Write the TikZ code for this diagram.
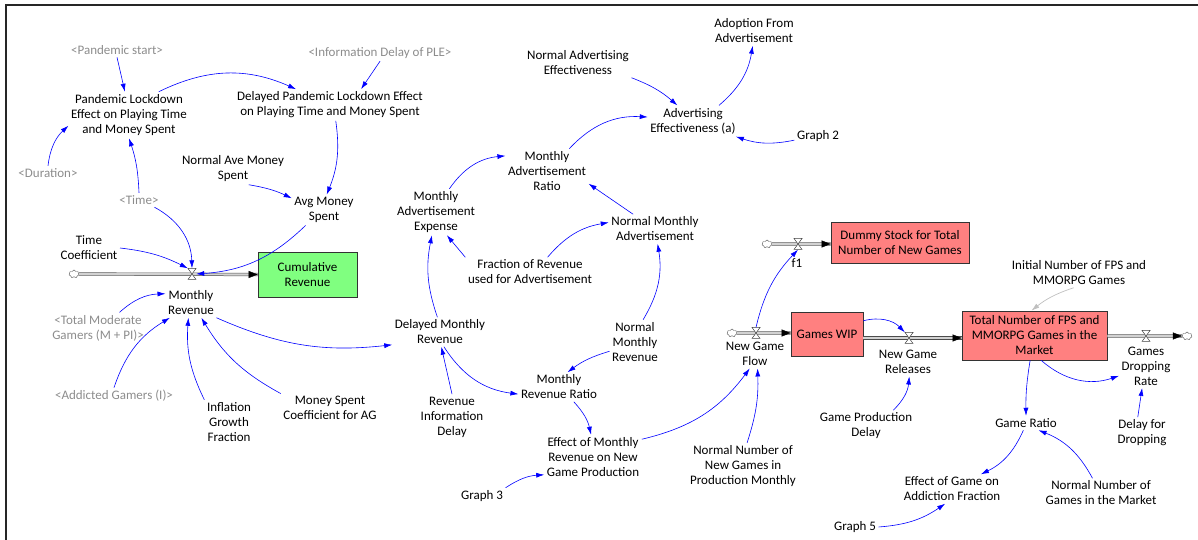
\documentclass[tikz,border=0pt]{standalone}
\usepackage{fontspec}
\setmainfont{Carlito}
\usetikzlibrary{arrows.meta,shapes.symbols}

\definecolor{stockgreen}{HTML}{80FF80}
\definecolor{stockred}{HTML}{FF8080}

\tikzset{
  var/.style={align=center, inner sep=2.5pt},
  ghost/.style={var, text=gray!90},
  stock/.style={draw=gray!40!black, line width=.7pt, align=center, inner sep=1pt},
  valve/.style={inner sep=0pt, minimum width=8pt, minimum height=11pt},
  cloudy/.style={cloud, cloud puffs=7, aspect=1.3, draw=gray!60!black, fill=white, inner sep=0pt, minimum width=10pt, minimum height=8pt},
  pipe/.style={draw=gray!60!black, line width=.5pt, double=gray!35, double distance=2.2pt},
  flowtip/.style={black, -{Triangle[length=9pt,width=7pt]}},
  link/.style={blue, line width=.6pt, -{Latex[length=8pt,width=5pt]}},
  infolink/.style={gray!50, line width=.7pt, -{Latex[length=8pt,width=5pt]}}
}

\begin{document}
\begin{tikzpicture}[x=1pt, y=1pt, font=\fontsize{13}{15}\selectfont]
\useasboundingbox (0,0) rectangle (1198,540);
\draw[gray!30!black, line width=1.5pt] (6,0) -- (6,535) -- (1198,535);

% stocks
\node[stock, fill=stockgreen, minimum width=99pt, minimum height=45pt] (cum) at (307.5,265.5) {Cumulative\\Revenue};
\node[stock, fill=stockred, minimum width=138pt, minimum height=41pt] (dummy) at (900,297.5) {Dummy Stock for Total\\Number of New Games};
\node[stock, fill=stockred, minimum width=72pt, minimum height=44pt] (wip) at (827,206) {Games WIP};
\node[stock, fill=stockred, minimum width=145pt, minimum height=49pt] (tot) at (1034.5,204.5) {Total Number of FPS and\\MMORPG Games in the\\Market};

% flows
\node[cloudy] (c1) at (74,266) {};
\node[valve] (v1) at (192,266) {};
\node[cloudy] (c2) at (767,296) {};
\node[valve] (v2) at (798,296) {};
\node[cloudy] (c3) at (732,207) {};
\node[valve] (v3) at (756,207) {};
\node[valve] (v4) at (909,202) {};
\node[valve] (v5) at (1146,204) {};
\node[cloudy] (c5) at (1187,204) {};

\draw[pipe] (c1.east) -- (cum.west);
\draw[pipe] (c2.east) -- (dummy.west |- v2);
\draw[pipe] (c3.east) -- (wip.west |- v3);
\draw[pipe] (wip.east |- v4) -- (tot.west |- v4);
\draw[pipe] (tot.east |- v5) -- (c5.west);
\draw[flowtip] ([xshift=-9pt]cum.west) -- (cum.west);
\draw[flowtip] ([xshift=-9pt]dummy.west |- v2) -- (dummy.west |- v2);
\draw[flowtip] ([xshift=-9pt]wip.west |- v3) -- (wip.west |- v3);
\draw[flowtip] ([xshift=-9pt]tot.west |- v4) -- (tot.west |- v4);
\draw[flowtip] ([xshift=-9pt]c5.west) -- (c5.west);
\foreach \v in {v1,v2,v3,v4,v5}
  \draw[gray!50!black, fill=white, line width=.5pt] ([shift={(-4,5.5)}]\v.center) -- ([shift={(4,5.5)}]\v.center) -- ([shift={(-4,-5.5)}]\v.center) -- ([shift={(4,-5.5)}]\v.center) -- cycle;

\node[var] (mrev) at (191,237) {Monthly\\Revenue};
\node[var] (v2lab) at (797,277) {f1};
\node[var] (v3lab) at (755,186) {New Game\\Flow};
\node[var] (v4lab) at (908,178) {New Game\\Releases};
\node[var] (v5lab) at (1146,174) {Games\\Dropping\\Rate};

% variables
\node[ghost] (pstart) at (117,490) {<Pandemic start>};
\node[var] (ple) at (129,425) {Pandemic Lockdown\\Effect on Playing Time\\and Money Spent};
\node[var] (dple) at (330,435) {Delayed Pandemic Lockdown Effect\\on Playing Time and Money Spent};
\node[ghost] (infod) at (380,487) {<Information Delay of PLE>};
\node[ghost] (dur) at (48,367) {<Duration>};
\node[var] (nams) at (233,371) {Normal Ave Money\\Spent};
\node[ghost] (time) at (139,340) {<Time>};
\node[var] (ams) at (324,330) {Avg Money\\Spent};
\node[var] (tcoef) at (89,292) {Time\\Coefficient};
\node[ghost] (tmg) at (98,212) {<Total Moderate\\Gamers (M + PI)>};
\node[ghost] (ag) at (114,144) {<Addicted Gamers (I)>};
\node[var] (igf) at (229,118) {Inflation\\Growth\\Fraction};
\node[var] (msc) at (330,132) {Money Spent\\Coefficient for AG};
\node[var] (nae) at (578,477) {Normal Advertising\\Effectiveness};
\node[var] (afa) at (754,509) {Adoption From\\Advertisement};
\node[var] (ae) at (693,419) {Advertising\\Effectiveness (a)};
\node[var] (g2) at (818,404) {Graph 2};
\node[var] (mar) at (547,369) {Monthly\\Advertisement\\Ratio};
\node[var] (mae) at (436,328) {Monthly\\Advertisement\\Expense};
\node[var] (nma) at (655,311) {Normal Monthly\\Advertisement};
\node[var] (frac) at (530,268) {Fraction of Revenue\\used for Advertisement};
\node[var] (dmr) at (440,208) {Delayed Monthly\\Revenue};
\node[var] (nmr) at (635,198) {Normal\\Monthly\\Revenue};
\node[var] (mrr) at (559,153) {Monthly\\Revenue Ratio};
\node[var] (rid) at (452,123) {Revenue\\Information\\Delay};
\node[var] (emr) at (593,83) {Effect of Monthly\\Revenue on New\\Game Production};
\node[var] (g3) at (482,44) {Graph 3};
\node[var] (nng) at (743,74) {Normal Number of\\New Games in\\Production Monthly};
\node[var] (init) at (1079,267) {Initial Number of FPS and\\MMORPG Games};
\node[var] (gpd) at (866,114) {Game Production\\Delay};
\node[var] (gr) at (1026,117) {Game Ratio};
\node[var] (dfd) at (1142,107) {Delay for\\Dropping};
\node[var] (ega) at (952,51) {Effect of Game on\\Addiction Fraction};
\node[var] (nngm) at (1101,47) {Normal Number of\\Games in the Market};
\node[var] (g5) at (855,13) {Graph 5};

% links
\draw[link] (pstart.south) -- (ple.100);
\draw[link] (ple.38) to[bend left=25] (dple.155);
\draw[link] (infod.south) -- (dple.27);
\draw[link] (dur.north) to[bend left=20] (ple.190);
\draw[link] (time.north) to[bend right=8] (ple.south);
\draw[link] (dple.-70) to[bend left=15] (ams.80);
\draw[link] (nams.-45) to[bend left=8] (ams.160);
\draw[link] (time.-25) to[bend left=30] (v1.north);
\draw[link] (tcoef.east) to[bend left=10] (v1.north west);
\draw[link] (ams.-140) to[bend left=20] (v1.east);
\draw[link] (tmg.36) to[bend left=20] (mrev.160);
\draw[link] (ag.north) to[bend left=20] (mrev.-145);
\draw[link] (igf.north west) to[bend left=15] (mrev.-100);
\draw[link] (msc.north west) to[bend left=15] (mrev.-55);
\draw[link] (mrev.south east) to[bend right=15] (dmr.195);
\draw[link] (nae.south east) to[bend left=10] (ae.135);
\draw[link] (ae.31) to[bend right=20] (afa.-95);
\draw[link] (g2.190) to[bend left=15] (ae.-20);
\draw[link] (mar.45) to[bend left=25] (ae.175);
\draw[link] (mae.60) to[bend left=25] (mar.160);
\draw[link] (nma.146) -- (mar.-17);
\draw[link] (frac.north west) -- (mae.-65);
\draw[link] (frac.40) to[bend left=20] (nma.172);
\draw[link] (dmr.100) to[bend left=15] (mae.-100);
\draw[link] (nmr.70) to[bend right=20] (nma.-80);
\draw[link] (v3.north) to[bend left=15] (v2.south);
\draw[link] (nmr.200) to[bend right=10] (mrr.60);
\draw[link] (dmr.-75) to[bend right=25] (mrr.190);
\draw[link] (rid.north) -- (dmr.-85);
\draw[link] (mrr.-45) to[bend left=15] (emr.95);
\draw[link] (g3.north east) to[bend left=15] (emr.200);
\draw[link] (emr.20) to[bend right=20] (v3lab.-110);
\draw[link] (nng.80) to[bend right=10] (v3lab.-80);
\draw[link] (wip.20) to[bend left=30] (v4.north west);
\draw[link] (gpd.30) to[bend right=20] (v4lab.-85);
\draw[link] (tot.-100) to[bend right=5] (gr.north);
\draw[link] (tot.-75) to[bend right=30] (v5lab.200);
\draw[link] (dfd.105) -- (v5lab.-100);
\draw[link] (gr.-110) to[bend left=20] (ega.27);
\draw[link] (nngm.120) to[bend right=20] (gr.-30);
\draw[link] (g5.east) to[bend right=15] (ega.-115);
\draw[infolink] (init.-110) to[bend right=10] (tot.97);
\end{tikzpicture}
\end{document}
